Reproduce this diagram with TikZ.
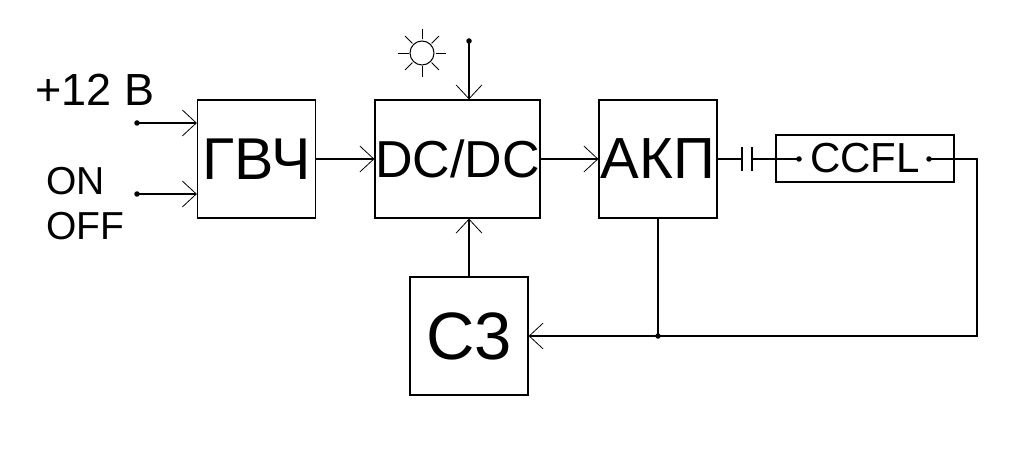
\documentclass[tikz,border=0pt]{standalone}
\usepackage{fontspec}
\setmainfont{Liberation Sans}
\usetikzlibrary{arrows.meta}
\newcommand\pxfont[1]{\fontsize{#1}{#1}\selectfont}
\tikzset{
  block/.style = {draw,line width=1.2pt,inner sep=0pt,
    minimum width=118pt,minimum height=118pt},
  dot/.style = {fill,circle,inner sep=0pt,minimum size=5.5pt}
}
\tikzset{>={Straight Barb[length=14pt,width=26pt,line width=0.8pt]}}

\begin{document}
\begin{tikzpicture}[x=1pt,y=-1pt,line width=1.2pt]
  \useasboundingbox (0,0) rectangle (1020,449);
  \node[block] (gvch) at (256.5,159) {\pxfont{59}ГВЧ};
  \node[block,minimum width=165pt] (dcdc) at (457.5,159) {\pxfont{52}DC/DC};
  \node[block] (akp) at (658,159) {\pxfont{58}АКП};
  \node[block] (sz) at (469,336) {\pxfont{67}С3};
  \node[block,minimum width=178pt,minimum height=47pt] (ccfl) at (865,158.5) {\pxfont{42}CCFL};
  \node[anchor=base west,inner sep=0pt] (v12) at (35,106) {\pxfont{45}+12 В};
  \node[anchor=base west,inner sep=0pt] (on) at (46,195) {\pxfont{39}ON};
  \node[anchor=base west,inner sep=0pt] (off) at (46,240) {\pxfont{39}OFF};
  % inputs
  \coordinate (in1) at (137,123);
  \coordinate (in2) at (137,194);
  \draw[->] (in1) -- (gvch.west |- in1);
  \draw[->] (in2) -- (gvch.west |- in2);
  \node[dot] at (in1) {};
  \node[dot] at (in2) {};
  \draw[->] (gvch) -- (dcdc);
  \draw[->] (dcdc) -- (akp);
  % top input and sun
  \coordinate (top) at (469,41);
  \draw[->] (top) -- (dcdc.north -| top);
  \node[dot] at (top) {};
  \coordinate (sun) at (422,53);
  \draw[line width=1pt] (sun) circle (12);
  \foreach \a in {0,45,...,315}
    \draw[line width=0.8pt] ([shift={(\a:13.5)}]sun) -- ([shift={(\a:24)}]sun);
  \draw[->] (sz.north) -- (dcdc.south -| sz.north);
  % capacitor and lamp
  \coordinate (c1) at (742,159);
  \coordinate (c2) at (752,159);
  \coordinate (dL) at (799,159);
  \coordinate (dR) at (929,159);
  \draw (akp.east |- c1) -- (c1);
  \draw ([yshift=12pt]c1) -- ([yshift=-12pt]c1);
  \draw ([yshift=12pt]c2) -- ([yshift=-12pt]c2);
  \draw (c2) -- (dL);
  \node[dot] at (dL) {};
  \node[dot] at (dR) {};
  % feedback
  \coordinate (fb) at (977,336);
  \coordinate (jn) at (akp.south |- fb);
  \draw[->] (dR) -| (fb) -- (sz.east);
  \draw (akp.south) -- (jn);
  \node[dot] at (jn) {};
\end{tikzpicture}
\end{document}
